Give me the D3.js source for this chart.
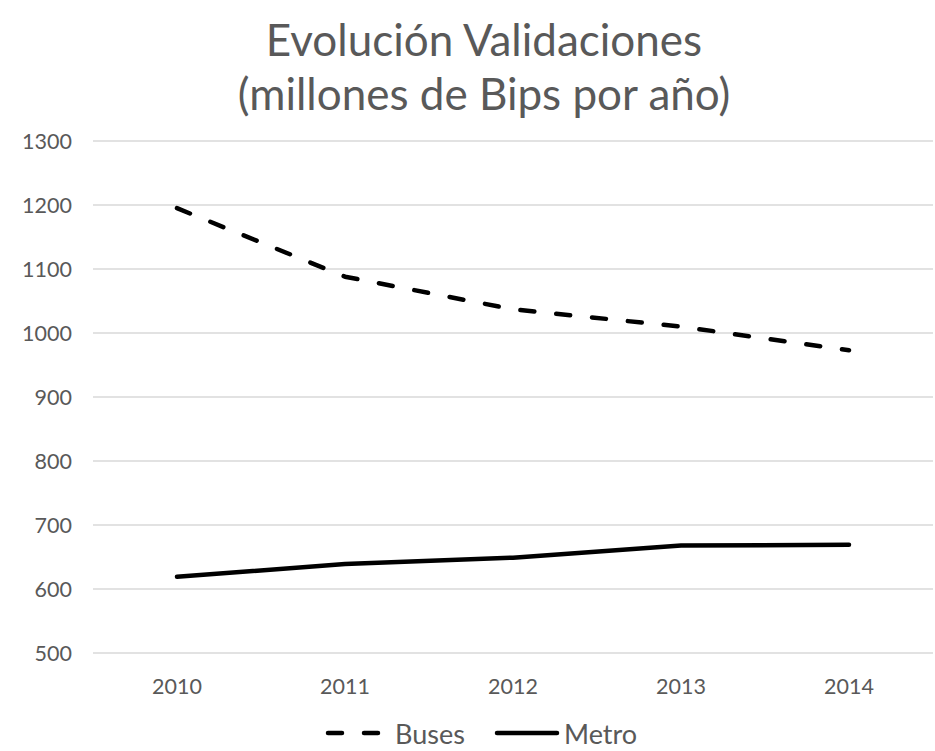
<!DOCTYPE html>
<html>
<head>
<meta charset="utf-8">
<script src="https://cdn.jsdelivr.net/npm/d3@7"></script>
<style>
  body { margin: 0; background: #fff; }
  svg text { font-family: Lato, "Open Sans", sans-serif; fill: #595959; }
</style>
</head>
<body>
<div id="chart"></div>
<script>
const years = ['2010', '2011', '2012', '2013', '2014'];
const buses = [1195, 1088, 1037, 1010, 973];
const metro = [619, 639, 649, 668, 669];
const yTicks = [500, 600, 700, 800, 900, 1000, 1100, 1200, 1300];
const titleLines = ['Evolución Validaciones', '(millones de Bips por año)'];

const width = 935;
const height = 751;
const margin = { top: 141, right: 2, bottom: 98, left: 93 };

const svg = d3.select('#chart').append('svg')
    .attr('width', width)
    .attr('height', height);

const x = d3.scaleBand()
    .domain(years)
    .range([margin.left, width - margin.right]);

const y = d3.scaleLinear()
    .domain([500, 1300])
    .range([height - margin.bottom, margin.top]);

// title
svg.append('g')
  .selectAll('text')
  .data(titleLines)
  .join('text')
    .attr('x', 484)
    .attr('y', (d, i) => 56 + i * 54)
    .attr('text-anchor', 'middle')
    .attr('font-size', 44)
    .text(d => d);

// grid
svg.append('g')
  .selectAll('line')
  .data(yTicks)
  .join('line')
    .attr('x1', margin.left)
    .attr('x2', width - margin.right)
    .attr('y1', d => y(d))
    .attr('y2', d => y(d))
    .attr('stroke', '#d9d9d9')
    .attr('stroke-width', 1.3);

// y labels
svg.append('g')
  .selectAll('text')
  .data(yTicks)
  .join('text')
    .attr('x', 72)
    .attr('y', d => y(d))
    .attr('text-anchor', 'end')
    .attr('dominant-baseline', 'central')
    .attr('font-size', 21.5)
    .text(d => d);

// x labels
svg.append('g')
  .selectAll('text')
  .data(years)
  .join('text')
    .attr('x', d => x(d) + x.bandwidth() / 2)
    .attr('y', 686)
    .attr('text-anchor', 'middle')
    .attr('dominant-baseline', 'central')
    .attr('font-size', 21.5)
    .text(d => d);

const line = d3.line()
    .x(d => x(d.year) + x.bandwidth() / 2)
    .y(d => y(d.value));

const series = [
  { name: 'Buses', values: buses, dash: '14,22' },
  { name: 'Metro', values: metro, dash: null }
];

svg.append('g')
  .selectAll('path')
  .data(series)
  .join('path')
    .attr('d', s => line(s.values.map((v, i) => ({ year: years[i], value: v }))))
    .attr('fill', 'none')
    .attr('stroke', '#000')
    .attr('stroke-width', 4.5)
    .attr('stroke-linecap', 'round')
    .attr('stroke-linejoin', 'round')
    .attr('stroke-dasharray', s => s.dash);

// legend
const legendY = 733;
const legend = svg.append('g')
  .selectAll('g')
  .data(series)
  .join('g')
    .attr('transform', (d, i) => `translate(${i === 0 ? 328 : 497},${legendY})`);

legend.append('line')
    .attr('x1', 0)
    .attr('x2', (d, i) => i === 0 ? 52 : 60)
    .attr('stroke', '#000')
    .attr('stroke-width', 4.5)
    .attr('stroke-linecap', 'round')
    .attr('stroke-dasharray', d => d.dash ? '14,22' : null);

legend.append('text')
    .attr('x', 67)
    .attr('y', 0)
    .attr('dominant-baseline', 'central')
    .attr('font-size', 27)
    .text(d => d.name);
</script>
</body>
</html>
